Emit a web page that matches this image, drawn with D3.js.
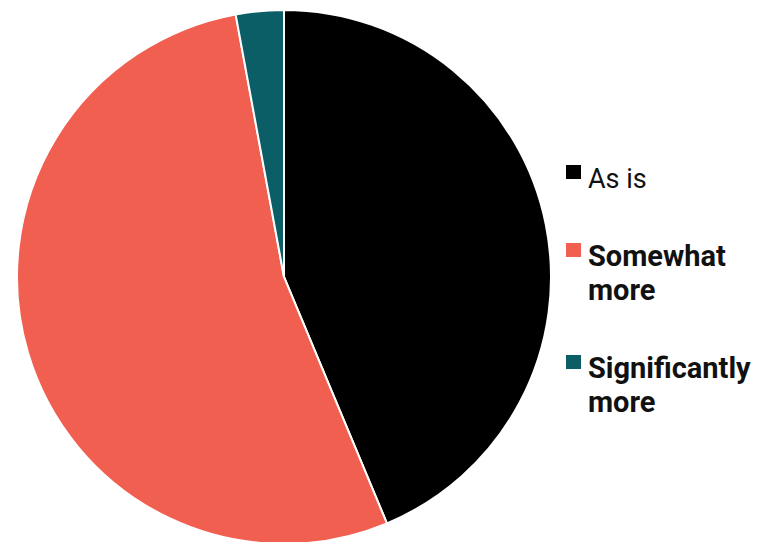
<!DOCTYPE html>
<html>
<head>
<meta charset="utf-8">
<script src="https://cdn.jsdelivr.net/npm/d3@7"></script>
<style>
  body { margin: 0; background: #fff; }
  svg { display: block; }
</style>
</head>
<body>
<script>
// data
const categories = ["As is", "Somewhat more", "Significantly more"];
const values = [43.7, 53.4, 2.9];
const legendLines = [["As is"], ["Somewhat", "more"], ["Significantly", "more"]];
const legendBold = [false, true, true];
const colors = ["#000000", "#f05f50", "#0b5d66"];

const width = 758;
const height = 542;
const cx = 284, cy = 277, radius = 267;

const svg = d3.select("body").append("svg")
  .attr("width", width)
  .attr("height", height);

const pie = d3.pie().sort(null).value((d) => d);
const arc = d3.arc().innerRadius(0).outerRadius(radius);

const color = d3.scaleOrdinal().domain(categories).range(colors);

svg.append("g")
  .attr("transform", "translate(" + cx + "," + cy + ")")
  .selectAll("path")
  .data(pie(values))
  .enter()
  .append("path")
  .attr("d", arc)
  .attr("fill", (d, i) => color(categories[i]))
  .attr("stroke", "#fff")
  .attr("stroke-width", 2);

//Legend - stack items, each item as tall as its lines
const lineHeight = 34;
const itemGap = 44;
let yPos = 165;
const legendTop = legendLines.map((lines) => {
  const y = yPos;
  yPos += lines.length * lineHeight + itemGap;
  return y;
});

const legend = svg.append("g")
  .selectAll("g")
  .data(categories)
  .enter()
  .append("g")
  .attr("transform", (d, i) => "translate(566," + legendTop[i] + ")");

legend.append("rect")
  .attr("width", 15)
  .attr("height", 14)
  .attr("fill", (d) => color(d));

legend.append("text")
  .attr("x", 22)
  .attr("y", 23)
  .attr("font-family", "Roboto, sans-serif")
  .attr("font-size", (d, i) => (legendBold[i] ? 29 : 27))
  .attr("font-weight", (d, i) => (legendBold[i] ? "bold" : "normal"))
  .attr("fill", "#111")
  .selectAll("tspan")
  .data((d, i) => legendLines[i])
  .enter()
  .append("tspan")
  .attr("x", 22)
  .attr("dy", (d, j) => (j === 0 ? 0 : lineHeight))
  .text((d) => d);
</script>
</body>
</html>
